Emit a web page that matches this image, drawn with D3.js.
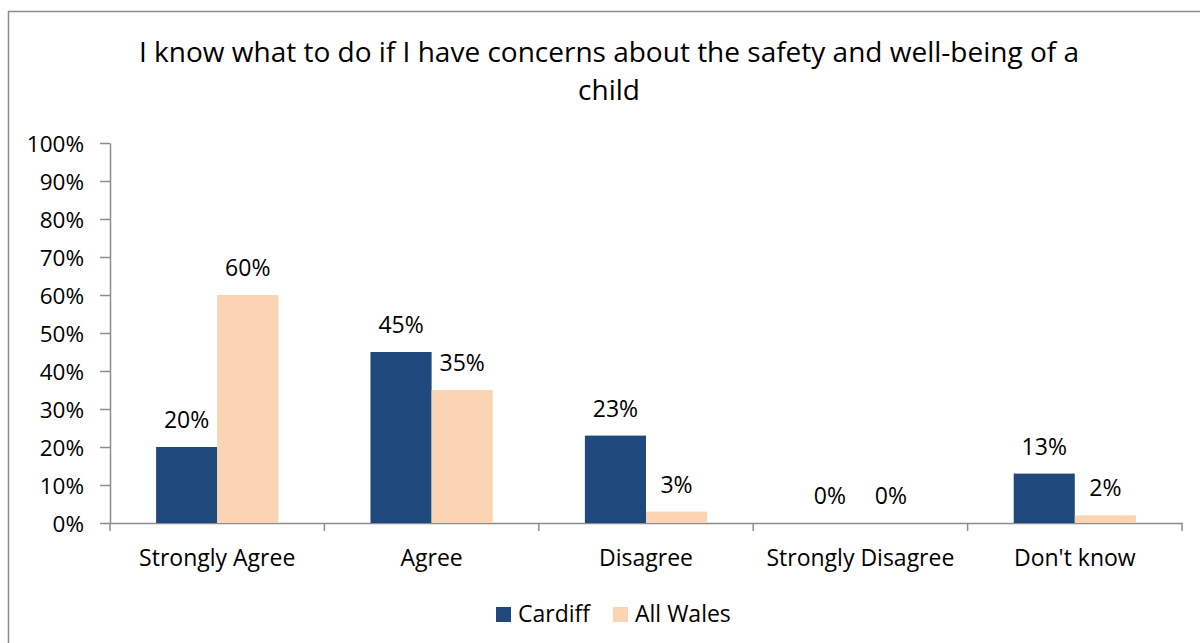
<!DOCTYPE html>
<html><head><meta charset="utf-8">
<script src="https://cdn.jsdelivr.net/npm/d3@7"></script>
<style>body{margin:0;background:#fff}svg{display:block}text{font-family:"Open Sans","Noto Sans",sans-serif;fill:#000}</style>
</head><body><svg id="c" width="1200" height="643"></svg>
<script>
const categories = ["Strongly Agree","Agree","Disagree","Strongly Disagree","Don't know"];
const cardiff = [20,45,23,0,13];
const allWales = [60,35,3,0,2];
const seriesNames = ["Cardiff","All Wales"];
const colors = ["#1F497D","#FBD4B4"];
const yTicks = [0,10,20,30,40,50,60,70,80,90,100];
const titleLines = ["I know what to do if I have concerns about the safety and well-being of a","child"];

const svg = d3.select("#c");
svg.append("rect").attr("x",8.5).attr("y",11.5).attr("width",1200).attr("height",700)
  .attr("fill","none").attr("stroke","#8c8c8c").attr("stroke-width",1.5);

const m = {l:110, r:1182, t:143, b:523};
const x = d3.scaleBand().domain(categories).range([m.l,m.r]);
const y = d3.scaleLinear().domain([0,100]).range([m.b,m.t]);
const inner = d3.scaleBand().domain(seriesNames).range([0, x.bandwidth()*0.57]);
const off = (x.bandwidth() - x.bandwidth()*0.57)/2;

// title
svg.append("text").attr("text-anchor","middle").attr("font-size",28)
  .selectAll("tspan").data(titleLines).join("tspan")
  .attr("x",609).attr("y",(d,i)=>62+i*38).text(d=>d);

// y axis
const ya = svg.append("g").attr("transform",`translate(${m.l},0)`)
  .call(d3.axisLeft(y).tickValues(yTicks).tickFormat(d=>d+"%").tickSize(10).tickSizeOuter(0));
ya.select(".domain").attr("stroke","#8c8c8c").attr("stroke-width",1.5);
ya.selectAll(".tick line").attr("stroke","#8c8c8c").attr("stroke-width",1.5);
ya.selectAll(".tick text").attr("font-size",22.5).attr("x",-26).attr("dy","0.36em").attr("font-family","Open Sans");

// x axis
const xa = svg.append("g").attr("transform",`translate(0,${m.b})`)
  .call(d3.axisBottom(x).tickSize(0).tickSizeOuter(0));
xa.select(".domain").attr("stroke","#8c8c8c").attr("stroke-width",1.5);
xa.selectAll(".tick text").attr("font-size",23).attr("y",43).attr("dy",0).attr("font-family","Open Sans");
const bounds = categories.map(c=>x(c)).concat([m.r]);
xa.selectAll("line.bd").data(bounds).join("line").attr("class","bd")
  .attr("x1",d=>d).attr("x2",d=>d).attr("y1",0).attr("y2",8)
  .attr("stroke","#8c8c8c").attr("stroke-width",1.5);

// bars
const series = [cardiff, allWales];
series.forEach((vals,si)=>{
  const g = svg.append("g");
  g.selectAll("rect").data(vals).join("rect")
    .attr("x",(d,i)=>x(categories[i])+off+inner(seriesNames[si]))
    .attr("width",inner.bandwidth())
    .attr("y",d=>y(d)).attr("height",d=>y(0)-y(d))
    .attr("fill",colors[si]);
  g.selectAll("text").data(vals).join("text")
    .attr("x",(d,i)=>x(categories[i])+off+inner(seriesNames[si])+inner.bandwidth()/2)
    .attr("y",d=>y(d)-19).attr("text-anchor","middle").attr("font-size",23)
    .text(d=>d+"%");
});

// legend
const lg = svg.append("g");
const lx = [496, 613];
seriesNames.forEach((n,i)=>{
  lg.append("rect").attr("x",lx[i]).attr("y",607).attr("width",15).attr("height",15).attr("fill",colors[i]);
  lg.append("text").attr("x",lx[i]+22).attr("y",622).attr("font-size",23).text(n);
});
</script></body></html>
